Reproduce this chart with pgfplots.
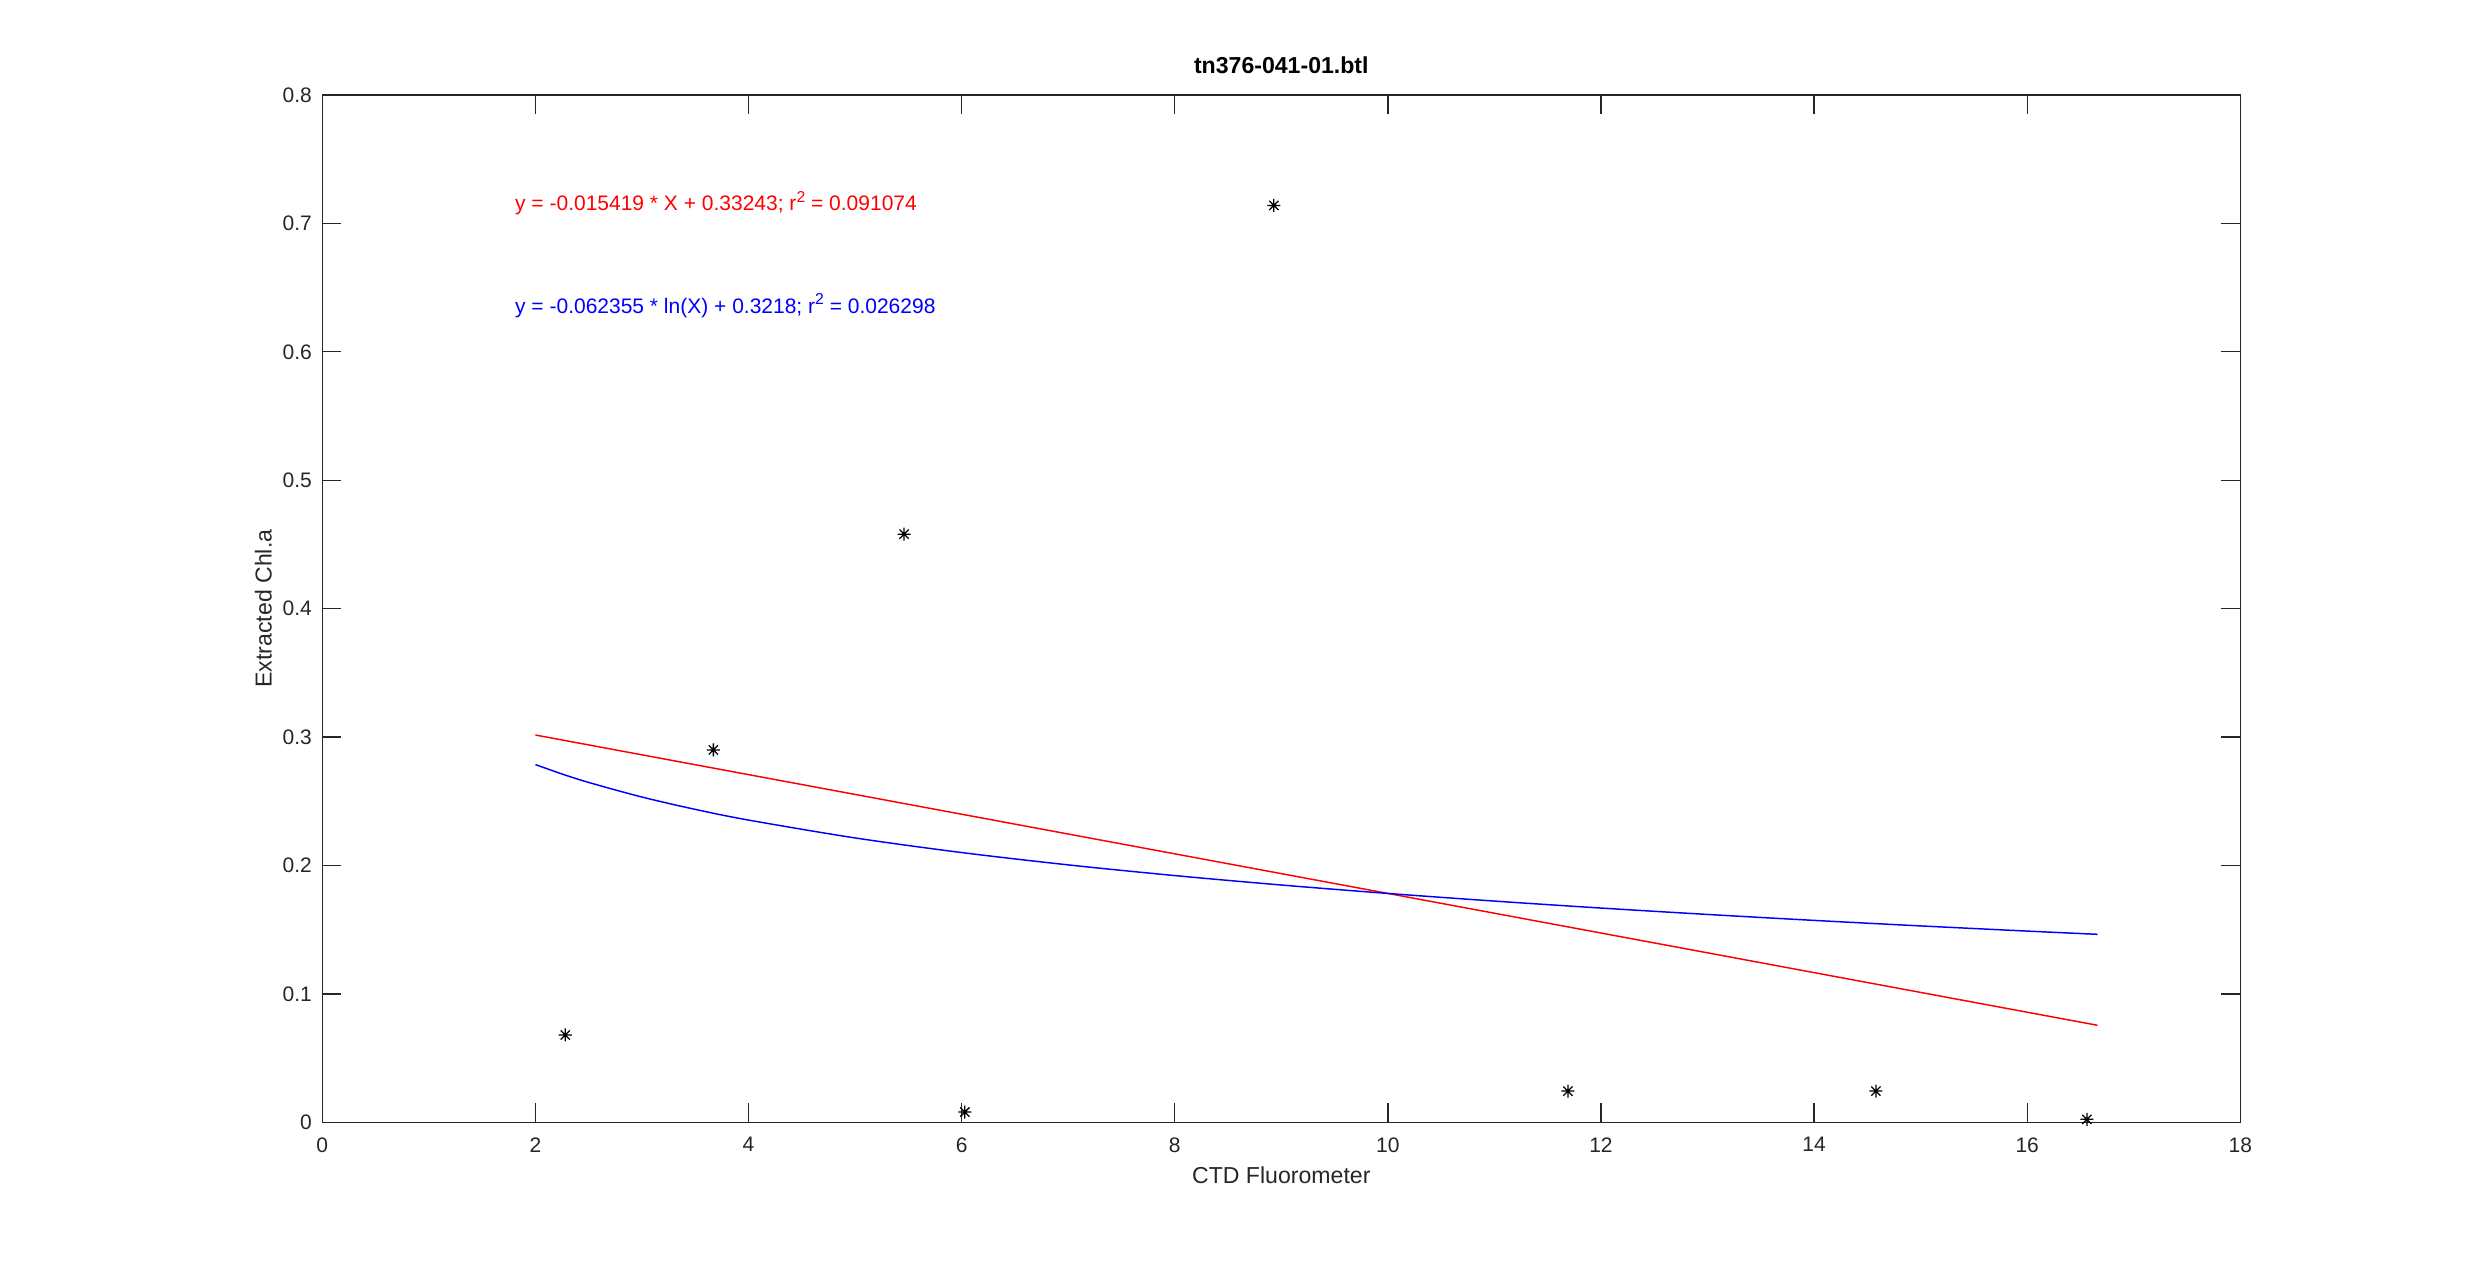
\documentclass[border=0pt]{standalone}
\usepackage{pgfplots}
\pgfplotsset{compat=1.18}
\usepackage{fontspec}
\setmainfont{Liberation Sans}
\definecolor{axgray}{rgb}{0.15,0.15,0.15}
\pgfdeclareplotmark{mstar}{%
  \pgfpathmoveto{\pgfpoint{-\pgfplotmarksize}{0pt}}\pgfpathlineto{\pgfpoint{\pgfplotmarksize}{0pt}}%
  \pgfpathmoveto{\pgfpoint{0pt}{-\pgfplotmarksize}}\pgfpathlineto{\pgfpoint{0pt}{\pgfplotmarksize}}%
  \pgfpathmoveto{\pgfpoint{-0.707\pgfplotmarksize}{-0.707\pgfplotmarksize}}\pgfpathlineto{\pgfpoint{0.707\pgfplotmarksize}{0.707\pgfplotmarksize}}%
  \pgfpathmoveto{\pgfpoint{-0.707\pgfplotmarksize}{0.707\pgfplotmarksize}}\pgfpathlineto{\pgfpoint{0.707\pgfplotmarksize}{-0.707\pgfplotmarksize}}%
  \pgfusepathqstroke}
\newcommand{\sq}{\raisebox{0.75ex}{\fontsize{7.5pt}{8pt}\selectfont 2}}
\begin{document}
\begin{tikzpicture}
\path[use as bounding box] (0,0) rectangle (1178.57pt,600.48pt);
\begin{axis}[
  at={(153.48pt,66.05pt)}, anchor=south west,
  width=913.33pt, height=489.19pt, scale only axis,
  xmin=0, xmax=18, ymin=0, ymax=0.8,
  xtick={0,2,4,6,8,10,12,14,16,18},
  ytick={0,0.1,0.2,0.3,0.4,0.5,0.6,0.7,0.8},
  tick align=inside, tick pos=both,
  major tick length=9pt,
  axis line style={axgray, line width=0.6pt},
  every tick/.style={axgray, line width=0.6pt},
  /pgf/number format/assume math mode=true,
  /pgf/number format/fixed,
  ticklabel style={font=\fontsize{10pt}{12pt}\selectfont, text=axgray},
  xticklabel style={inner sep=0pt, anchor=north, yshift=-7pt},
  yticklabel style={inner sep=0pt, anchor=east, xshift=-4.8pt},
  title={tn376-041-01.btl},
  title style={font=\fontsize{11pt}{13pt}\selectfont\bfseries, inner sep=0pt, at={(axis description cs:0.5,1)}, anchor=base, yshift=4.3pt},
  xlabel={CTD Fluorometer},
  xlabel style={font=\fontsize{11pt}{13pt}\selectfont, text=axgray, inner sep=0pt, at={(axis description cs:0.5,0)}, anchor=north, yshift=-21pt},
  ylabel={Extracted Chl.a},
  ylabel style={font=\fontsize{11pt}{13pt}\selectfont, text=axgray, inner sep=0pt, at={(axis description cs:-0.02606,0.5)}, anchor=south},
  clip=false,
]
\addplot[only marks, mark=mstar, mark size=3.1pt, mark options={black, line width=0.6pt}] coordinates {
  (2.28,0.068) (3.67,0.290) (5.46,0.458) (6.03,0.008)
  (8.93,0.714) (11.69,0.0243) (14.58,0.0243) (16.56,0.0023)
};
\addplot[red, line width=0.7pt] coordinates {(2,0.30159) (16.66,0.07555)};
\addplot[blue, line width=0.7pt, smooth] coordinates {
  (2,0.27858) (2.25,0.27124) (2.5,0.26466) (3,0.25330) (3.5,0.24368) (4,0.23536)
  (5,0.22145) (6,0.21007) (7,0.20047) (8,0.19214) (9,0.18479) (10,0.17822)
  (11,0.17228) (12,0.16685) (13,0.16187) (14,0.15724) (15,0.15294) (16,0.14891)
  (16.66,0.14639)
};
\node[anchor=base west, inner sep=0pt, text=red, font=\fontsize{10pt}{12pt}\selectfont] at (axis cs:1.806,0.7099) {y = -0.015419 * X + 0.33243; r\sq{} = 0.091074};
\node[anchor=base west, inner sep=0pt, text=blue, font=\fontsize{10pt}{12pt}\selectfont] at (axis cs:1.806,0.6302) {y = -0.062355 * ln(X) + 0.3218; r\sq{} = 0.026298};
\end{axis}
\end{tikzpicture}
\end{document}
